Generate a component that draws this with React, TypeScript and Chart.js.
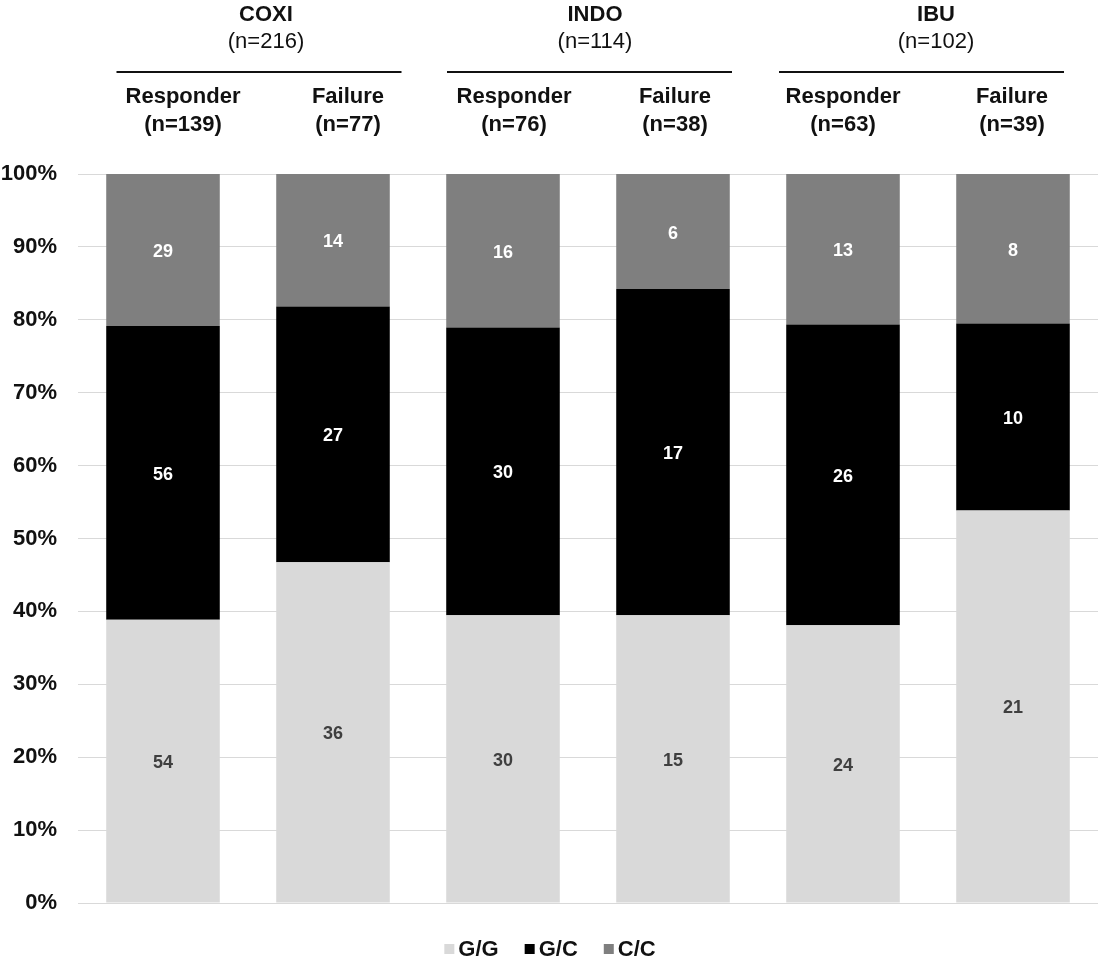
import React, { useEffect, useRef } from "react";
import { Chart, registerables } from "chart.js";

Chart.register(...registerables);

// ---- data ----
const groupNames = ["COXI", "INDO", "IBU"];
const outcomeNames = ["Responder", "Failure"];
const barLabels = [
  "COXI Responder",
  "COXI Failure",
  "INDO Responder",
  "INDO Failure",
  "IBU Responder",
  "IBU Failure",
];
const genotypes = ["G/G", "G/C", "C/C"];
const ggCounts = [54, 36, 30, 15, 24, 21];
const gcCounts = [56, 27, 30, 17, 26, 10];
const ccCounts = [29, 14, 16, 6, 13, 8];
const yTickMin = 0;
const yTickMax = 100;
const yTickStep = 10;

// ---- styles ----
const genotypeColors = ["#d9d9d9", "#000000", "#7f7f7f"];
const valueLabelColors = ["#3f3f3f", "#ffffff", "#ffffff"];
const FONT = "Arial, 'Liberation Sans', Helvetica, sans-serif";
const TEXT = "#111111";

const countsByGenotype = [ggCounts, gcCounts, ccCounts];
const barTotals = ggCounts.map((v, i) => v + gcCounts[i] + ccCounts[i]);
const pctByGenotype = countsByGenotype.map((arr) =>
  arr.map((v, i) => (v / barTotals[i]) * 100)
);

// layout-only offsets (pixels) for header texts, as in the reference
const groupTextOffsets = [18, 7, 8];
const groupLineOffsets = [11, 1.5, -6.5];
const subTextOffsets = [20, 15, 11, 2, 0, -1];

const headerPlugin = {
  id: "headerPlugin",
  afterDraw(chart: any) {
    const ctx = chart.ctx as CanvasRenderingContext2D;
    const xs = chart.scales.x;
    ctx.save();
    ctx.fillStyle = TEXT;
    ctx.strokeStyle = TEXT;
    ctx.textAlign = "center";
    ctx.textBaseline = "alphabetic";
    groupNames.forEach((g, gi) => {
      const i0 = gi * outcomeNames.length;
      const i1 = i0 + outcomeNames.length - 1;
      const cx = (xs.getPixelForValue(i0) + xs.getPixelForValue(i1)) / 2;
      let total = 0;
      for (let k = i0; k <= i1; k++) total += barTotals[k];
      ctx.font = `bold 22px ${FONT}`;
      ctx.fillText(g, cx + groupTextOffsets[gi], 21);
      ctx.font = `22px ${FONT}`;
      ctx.fillText(`(n=${total})`, cx + groupTextOffsets[gi], 48);
      ctx.lineWidth = 2;
      const lc = cx + groupLineOffsets[gi];
      ctx.beginPath();
      ctx.moveTo(lc - 142.5, 72);
      ctx.lineTo(lc + 142.5, 72);
      ctx.stroke();
    });
    barLabels.forEach((_, i) => {
      const bx = xs.getPixelForValue(i) + subTextOffsets[i];
      ctx.font = `bold 22px ${FONT}`;
      ctx.fillText(outcomeNames[i % outcomeNames.length], bx, 103);
      ctx.fillText(`(n=${barTotals[i]})`, bx, 131);
    });

    // legend
    ctx.font = `bold 22px ${FONT}`;
    const box = 10;
    const gap = 4;
    const spacing = 26;
    const widths = genotypes.map((t) => box + gap + ctx.measureText(t).width);
    const totalW =
      widths.reduce((a, b) => a + b, 0) + spacing * (genotypes.length - 1);
    let lx = chart.width / 2 - totalW / 2;
    const ly = 949;
    ctx.textAlign = "left";
    ctx.textBaseline = "middle";
    genotypes.forEach((t, i) => {
      ctx.fillStyle = genotypeColors[i];
      ctx.fillRect(lx, ly - box / 2, box, box);
      ctx.fillStyle = TEXT;
      ctx.fillText(t, lx + box + gap, ly + 1);
      lx += widths[i] + spacing;
    });
    ctx.restore();
  },
};

const valueLabelPlugin = {
  id: "valueLabelPlugin",
  afterDatasetsDraw(chart: any) {
    const ctx = chart.ctx as CanvasRenderingContext2D;
    ctx.save();
    ctx.font = `bold 18px ${FONT}`;
    ctx.textAlign = "center";
    ctx.textBaseline = "middle";
    chart.data.datasets.forEach((_: any, di: number) => {
      const meta = chart.getDatasetMeta(di);
      meta.data.forEach((bar: any, i: number) => {
        const p = bar.getProps(["x", "y", "base"], true);
        ctx.fillStyle = valueLabelColors[di];
        ctx.fillText(String(countsByGenotype[di][i]), p.x, (p.y + p.base) / 2 + 2);
      });
    });
    ctx.restore();
  },
};

export default function App() {
  const ref = useRef<HTMLCanvasElement | null>(null);
  useEffect(() => {
    document.body.style.margin = "0";
    const canvas = ref.current;
    if (!canvas) return;
    const chart = new Chart(canvas, {
      type: "bar",
      data: {
        labels: barLabels,
        datasets: genotypes.map((g, i) => ({
          label: g,
          data: pctByGenotype[i],
          backgroundColor: genotypeColors[i],
          borderWidth: 0,
          categoryPercentage: 1,
          barPercentage: 0.668,
        })),
      },
      options: {
        responsive: false,
        animation: false,
        devicePixelRatio: 1,
        layout: { padding: { top: 174, bottom: 58, left: 0, right: 2 } },
        plugins: {
          legend: { display: false },
          tooltip: { enabled: false },
        },
        scales: {
          x: {
            stacked: true,
            display: false,
          },
          y: {
            stacked: true,
            min: yTickMin,
            max: yTickMax,
            afterFit(scale: any) {
              scale.width = 78;
            },
            border: { display: false },
            grid: { color: "#d9d9d9", lineWidth: 1, drawTicks: false },
            ticks: {
              stepSize: yTickStep,
              padding: 21,
              color: TEXT,
              font: { family: FONT, size: 22, weight: "bold" },
              callback: (v: any) => `${v}%`,
            },
          },
        },
      },
      plugins: [valueLabelPlugin, headerPlugin],
    });
    return () => chart.destroy();
  }, []);
  return (
    <canvas
      ref={ref}
      width={1100}
      height={961}
      style={{ display: "block", width: 1100, height: 961 }}
    />
  );
}
